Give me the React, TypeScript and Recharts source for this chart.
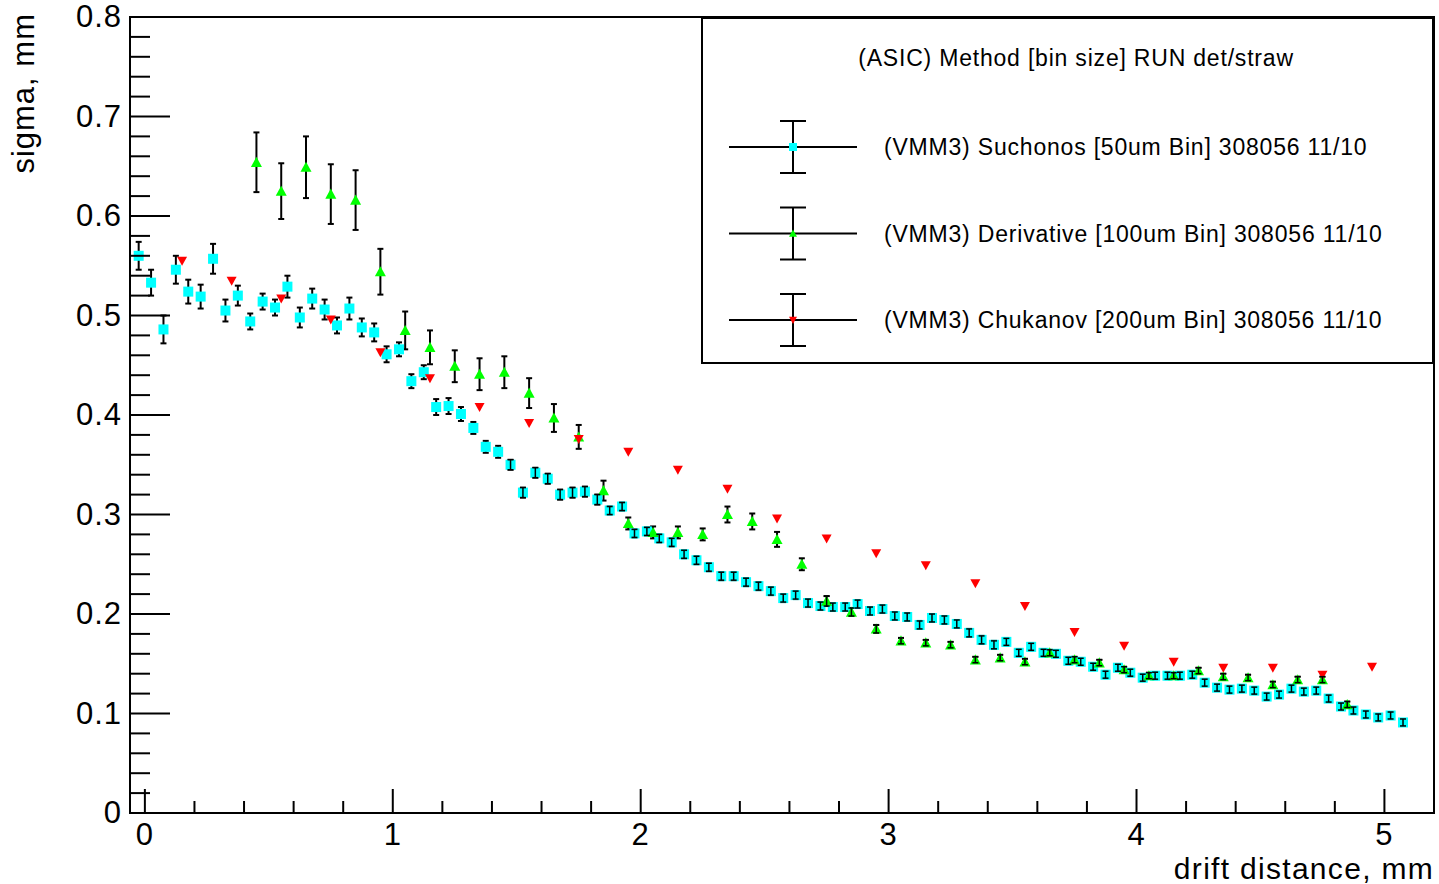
import React from "react";
import {
  ScatterChart,
  Scatter,
  XAxis,
  YAxis,
  ErrorBar,
  ReferenceArea,
  Legend,
  Label,
} from "recharts";

// Suchonos, 50um bins
const suchonosX = [
  -0.025, 0.025, 0.075, 0.125, 0.175, 0.225, 0.275, 0.325, 0.375, 0.425,
  0.475, 0.525, 0.575, 0.625, 0.675, 0.725, 0.775, 0.825, 0.875, 0.925,
  0.975, 1.025, 1.075, 1.125, 1.175, 1.225, 1.275, 1.325, 1.375, 1.425,
  1.475, 1.525, 1.575, 1.625, 1.675, 1.725, 1.775, 1.825, 1.875, 1.925,
  1.975, 2.025, 2.075, 2.125, 2.175, 2.225, 2.275, 2.325, 2.375, 2.425,
  2.475, 2.525, 2.575, 2.625, 2.675, 2.725, 2.775, 2.825, 2.875, 2.925,
  2.975, 3.025, 3.075, 3.125, 3.175, 3.225, 3.275, 3.325, 3.375, 3.425,
  3.475, 3.525, 3.575, 3.625, 3.675, 3.725, 3.775, 3.825, 3.875, 3.925,
  3.975, 4.025, 4.075, 4.125, 4.175, 4.225, 4.275, 4.325, 4.375, 4.425,
  4.475, 4.525, 4.575, 4.625, 4.675, 4.725, 4.775, 4.825, 4.875, 4.925,
  4.975, 5.025, 5.075,
];
const suchonosY = [
  0.560, 0.533, 0.486, 0.546, 0.524, 0.519, 0.557, 0.505, 0.520, 0.494,
  0.514, 0.508, 0.529, 0.498, 0.517, 0.506, 0.490, 0.507, 0.488, 0.483,
  0.461, 0.466, 0.434, 0.443, 0.408, 0.409, 0.401, 0.387, 0.368, 0.363,
  0.350, 0.322, 0.342, 0.336, 0.320, 0.322, 0.323, 0.315, 0.304, 0.308,
  0.281, 0.283, 0.276, 0.272, 0.260, 0.254, 0.247, 0.238, 0.238, 0.232,
  0.228, 0.223, 0.216, 0.219, 0.211, 0.208, 0.207, 0.207, 0.210, 0.203,
  0.205, 0.198, 0.197, 0.189, 0.196, 0.194, 0.190, 0.181, 0.174, 0.169,
  0.172, 0.161, 0.167, 0.161, 0.160, 0.153, 0.152, 0.147, 0.139, 0.146,
  0.141, 0.136, 0.138, 0.138, 0.138, 0.139, 0.131, 0.126, 0.124, 0.125,
  0.123, 0.117, 0.119, 0.125, 0.122, 0.123, 0.115, 0.107, 0.103, 0.099,
  0.096, 0.098, 0.091,
];
const suchonosErr = [
  0.014, 0.013, 0.014, 0.014, 0.012, 0.012, 0.015, 0.011, 0.010, 0.008,
  0.008, 0.008, 0.011, 0.010, 0.010, 0.010, 0.008, 0.011, 0.009, 0.009,
  0.008, 0.007, 0.007, 0.007, 0.008, 0.008, 0.007, 0.006, 0.006, 0.006,
  0.005, 0.005, 0.005, 0.005, 0.005, 0.005, 0.005, 0.005, 0.004, 0.004,
  0.004, 0.004, 0.004, 0.004, 0.004, 0.004, 0.004, 0.004, 0.004, 0.004,
  0.004, 0.004, 0.004, 0.004, 0.004, 0.004, 0.004, 0.004, 0.004, 0.004,
  0.004, 0.004, 0.004, 0.004, 0.004, 0.004, 0.004, 0.004, 0.004, 0.004,
  0.0035, 0.0035, 0.0035, 0.0035, 0.0035, 0.0035, 0.0035, 0.0035, 0.0035, 0.0035,
  0.0035, 0.0035, 0.0035, 0.0035, 0.0035, 0.0035, 0.0035, 0.0035, 0.0035, 0.0035,
  0.0035, 0.0035, 0.0035, 0.0035, 0.0035, 0.0035, 0.0035, 0.0035, 0.0035, 0.0035,
  0.0035, 0.0035, 0.0035,
];

// Derivative, 100um bins
const derivativeX = [
  0.45, 0.55, 0.65, 0.75, 0.85, 0.95, 1.05, 1.15, 1.25, 1.35,
  1.45, 1.55, 1.65, 1.75, 1.85, 1.95, 2.05, 2.15, 2.25, 2.35,
  2.45, 2.55, 2.65, 2.75, 2.85, 2.95, 3.05, 3.15, 3.25, 3.35,
  3.45, 3.55, 3.65, 3.75, 3.85, 3.95, 4.05, 4.15, 4.25, 4.35,
  4.45, 4.55, 4.65, 4.75, 4.85,
];
const derivativeY = [
  0.654, 0.625, 0.649, 0.622, 0.616, 0.544, 0.485, 0.468, 0.449, 0.441,
  0.443, 0.422, 0.397, 0.378, 0.324, 0.291, 0.282, 0.282, 0.280, 0.300,
  0.293, 0.275, 0.250, 0.213, 0.202, 0.185, 0.173, 0.171, 0.169, 0.154,
  0.156, 0.152, 0.161, 0.154, 0.151, 0.144, 0.138, 0.138, 0.143, 0.137,
  0.136, 0.129, 0.134, 0.134, 0.109,
];
const derivativeErr = [
  0.030, 0.028, 0.031, 0.030, 0.030, 0.023, 0.019, 0.017, 0.016, 0.016,
  0.016, 0.015, 0.014, 0.012, 0.010, 0.006, 0.006, 0.006, 0.006, 0.008,
  0.008, 0.0075, 0.006, 0.005, 0.004, 0.004, 0.003, 0.003, 0.003, 0.003,
  0.003, 0.003, 0.003, 0.003, 0.003, 0.003, 0.003, 0.003, 0.003, 0.003,
  0.003, 0.003, 0.003, 0.003, 0.003,
];

// Chukanov, 200um bins
const chukanovX = [
  0.15, 0.35, 0.55, 0.75, 0.95, 1.15, 1.35, 1.55, 1.75, 1.95,
  2.15, 2.35, 2.55, 2.75, 2.95, 3.15, 3.35, 3.55, 3.75, 3.95,
  4.15, 4.35, 4.55, 4.75, 4.95,
];
const chukanovY = [
  0.555, 0.535, 0.517, 0.496, 0.463, 0.437, 0.408, 0.392, 0.376, 0.363,
  0.345, 0.326, 0.296, 0.276, 0.261, 0.249, 0.231, 0.208, 0.182, 0.168,
  0.152, 0.146, 0.146, 0.139, 0.147,
];

const xTicks = [
  0, 0.2, 0.4, 0.6, 0.8, 1, 1.2, 1.4, 1.6, 1.8, 2, 2.2, 2.4, 2.6, 2.8,
  3, 3.2, 3.4, 3.6, 3.8, 4, 4.2, 4.4, 4.6, 4.8, 5,
];
const yTicks = [
  0, 0.02, 0.04, 0.06, 0.08, 0.1, 0.12, 0.14, 0.16, 0.18,
  0.2, 0.22, 0.24, 0.26, 0.28, 0.3, 0.32, 0.34, 0.36, 0.38,
  0.4, 0.42, 0.44, 0.46, 0.48, 0.5, 0.52, 0.54, 0.56, 0.58,
  0.6, 0.62, 0.64, 0.66, 0.68, 0.7, 0.72, 0.74, 0.76, 0.78, 0.8,
];

const legendTitle = "(ASIC) Method [bin size] RUN det/straw";
const legendNames = [
  "(VMM3) Suchonos [50um Bin] 308056 11/10",
  "(VMM3) Derivative [100um Bin] 308056 11/10",
  "(VMM3) Chukanov [200um Bin] 308056 11/10",
];

const X_MIN = -0.06;
const X_MAX = 5.2;
const Y_MIN = 0;
const Y_MAX = 0.8;

// errors smaller than this sit inside the marker, ROOT shows their caps on top
const SMALL_ERR = 0.0055;

const FONT = '"Liberation Sans", Arial, Helvetica, sans-serif';
const CYAN = "#00ffff";
const GREEN = "#00ff00";
const RED = "#ff0000";

const suchonosData = suchonosX.map((x, i) => ({ x, y: suchonosY[i], err: suchonosErr[i] }));
const derivativeData = derivativeX.map((x, i) => ({ x, y: derivativeY[i], err: derivativeErr[i] }));
const chukanovData = chukanovX.map((x, i) => ({ x, y: chukanovY[i] }));
const smallErrData = [...suchonosData, ...derivativeData].filter((d) => d.err <= SMALL_ERR);

const square = (cx: number, cy: number, s: number) => (
  <rect x={cx - s / 2} y={cy - s / 2} width={s} height={s} fill={CYAN} />
);
const triUp = (cx: number, cy: number, s: number) => (
  <polygon
    points={`${cx - s / 2},${cy + s * 0.42} ${cx + s / 2},${cy + s * 0.42} ${cx},${cy - s / 2}`}
    fill={GREEN}
  />
);
const triDown = (cx: number, cy: number, s: number) => (
  <polygon
    points={`${cx - s / 2},${cy - s * 0.4} ${cx + s / 2},${cy - s * 0.4} ${cx},${cy + s / 2}`}
    fill={RED}
  />
);

const markers = [square, triUp, triDown];

const XTick = ({ x, y, payload }: any) => {
  const v = payload.value;
  const major = Math.abs(v - Math.round(v)) < 1e-6;
  return (
    <g>
      <line x1={x} y1={y} x2={x} y2={y - (major ? 24 : 12)} stroke="#000" strokeWidth={2} />
      {major && (
        <text x={x} y={y + 32} textAnchor="middle" fontSize={31} letterSpacing={1} fontFamily={FONT} fill="#000">
          {Math.round(v)}
        </text>
      )}
    </g>
  );
};

const YTick = ({ x, y, payload }: any) => {
  const v = payload.value;
  const major = Math.abs(v * 10 - Math.round(v * 10)) < 1e-6;
  return (
    <g>
      <line x1={x} y1={y} x2={x + (major ? 40 : 20)} y2={y} stroke="#000" strokeWidth={2} />
      {major && (
        <text x={x - 8} y={y + 10} textAnchor="end" fontSize={31} letterSpacing={1} fontFamily={FONT} fill="#000">
          {v === 0 ? "0" : v.toFixed(1)}
        </text>
      )}
    </g>
  );
};

const LegendBox = () => (
  <svg width={733} height={347} style={{ display: "block" }}>
    <rect x={1} y={1} width={731} height={345} fill="#fff" stroke="#000" strokeWidth={2} />
    <text x={375} y={41} textAnchor="middle" dominantBaseline="central" fontSize={23} letterSpacing={0.8} fontFamily={FONT} fill="#000">
      {legendTitle}
    </text>
    {legendNames.map((name, i) => {
      const cy = 130 + i * 86.5;
      return (
        <g key={name}>
          <line x1={28} y1={cy} x2={156} y2={cy} stroke="#000" strokeWidth={2} />
          <line x1={92} y1={cy - 26} x2={92} y2={cy + 26} stroke="#000" strokeWidth={2} />
          <line x1={79} y1={cy - 26} x2={105} y2={cy - 26} stroke="#000" strokeWidth={2} />
          <line x1={79} y1={cy + 26} x2={105} y2={cy + 26} stroke="#000" strokeWidth={2} />
          {markers[i](92, cy, 8)}
          <text x={183} y={cy} dominantBaseline="central" fontSize={23} letterSpacing={0.8} fontFamily={FONT} fill="#000">
            {name}
          </text>
        </g>
      );
    })}
  </svg>
);

export default function App() {
  return (
    <div style={{ position: "absolute", left: 0, top: 0, width: 1439, height: 884, background: "#fff", fontFamily: FONT }}>
      <ScatterChart width={1439} height={884} margin={{ top: 17, right: 5, bottom: 0, left: 0 }}>
        <ReferenceArea
          x1={X_MIN}
          x2={X_MAX}
          y1={Y_MIN}
          y2={Y_MAX}
          fill="none"
          stroke="#000"
          strokeWidth={2}
          ifOverflow="visible"
        />
        <XAxis
          type="number"
          dataKey="x"
          domain={[X_MIN, X_MAX]}
          ticks={xTicks}
          interval={0}
          allowDataOverflow
          height={71}
          tickSize={0}
          tickMargin={0}
          tickLine={false}
          tick={<XTick />}
          axisLine={{ stroke: "#000", strokeWidth: 2 }}
        >
          <Label
            content={({ viewBox }: any) => (
              <text
                x={viewBox.x + viewBox.width}
                y={viewBox.y + 66}
                textAnchor="end"
                fontSize={30}
                letterSpacing={1.3}
                fontFamily={FONT}
                fill="#000"
              >
                drift distance, mm
              </text>
            )}
          />
        </XAxis>
        <YAxis
          type="number"
          dataKey="y"
          domain={[Y_MIN, Y_MAX]}
          ticks={yTicks}
          interval={0}
          allowDataOverflow
          width={130}
          tickSize={0}
          tickMargin={0}
          tickLine={false}
          tick={<YTick />}
          axisLine={{ stroke: "#000", strokeWidth: 2 }}
        >
          <Label
            content={({ viewBox }: any) => {
              const lx = viewBox.x + 34;
              const ly = viewBox.y - 4;
              return (
                <text
                  x={lx}
                  y={ly}
                  transform={`rotate(-90 ${lx} ${ly})`}
                  textAnchor="end"
                  fontSize={31}
                  letterSpacing={1}
                  fontFamily={FONT}
                  fill="#000"
                >
                  sigma, mm
                </text>
              );
            }}
          />
        </YAxis>
        <Scatter
          name={legendNames[0]}
          data={suchonosData}
          isAnimationActive={false}
          shape={(p: any) => square(p.cx, p.cy, 10)}
        >
          <ErrorBar dataKey="err" direction="y" width={3} stroke="#000" strokeWidth={2} isAnimationActive={false} />
        </Scatter>
        <Scatter
          name={legendNames[1]}
          data={derivativeData}
          isAnimationActive={false}
          shape={(p: any) => triUp(p.cx, p.cy, 11)}
        >
          <ErrorBar dataKey="err" direction="y" width={3} stroke="#000" strokeWidth={2} isAnimationActive={false} />
        </Scatter>
        {/* caps of the small error bars drawn over the markers */}
        <Scatter
          data={smallErrData}
          isAnimationActive={false}
          legendType="none"
          shape={() => <g />}
        >
          <ErrorBar
            dataKey="err"
            direction="y"
            width={3}
            stroke="#000"
            strokeWidth={1.5}
            isAnimationActive={false}
            {...({ zIndex: 1000 } as any)}
          />
        </Scatter>
        <Scatter
          name={legendNames[2]}
          data={chukanovData}
          isAnimationActive={false}
          shape={(p: any) => triDown(p.cx, p.cy, 10)}
        />
        <Legend
          layout="horizontal"
          verticalAlign="middle"
          align="center"
          content={<LegendBox />}
          wrapperStyle={{ left: 701, top: 17, width: 733, height: 347 }}
        />
      </ScatterChart>
    </div>
  );
}
